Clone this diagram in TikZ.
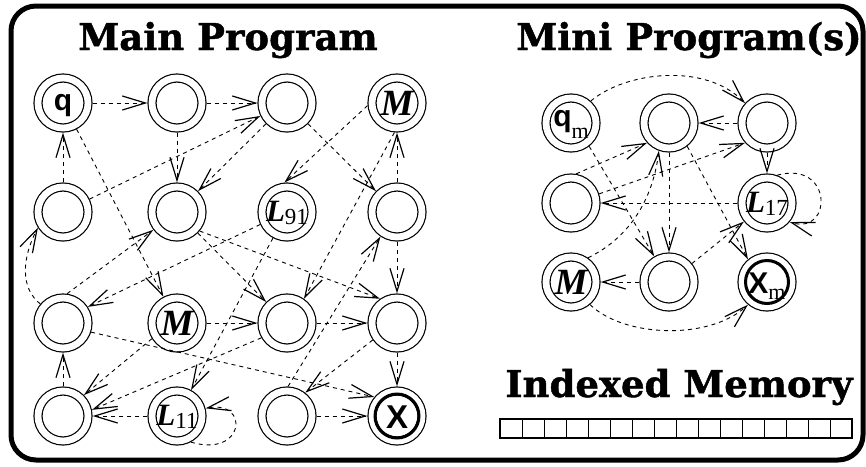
\documentclass[tikz,border=0pt]{standalone}
\usepackage{fontspec}
\setmainfont{Liberation Serif}
\newfontfamily\ttlfont[BoldFeatures={FakeBold=1.2}]{DejaVu Serif}
\newfontfamily\sansb{Liberation Sans}
\usetikzlibrary{arrows.meta}
\newcommand{\lbl}[2]{\raisebox{#1}[0pt][0pt]{#2}}
\newcommand{\Qq}{\lbl{-7.5pt}{\sansb\bfseries\fontsize{30}{30}\selectfont q}}
\newcommand{\Qm}{\lbl{-3pt}{\sansb\bfseries\fontsize{30}{30}\selectfont q}\lbl{-15pt}{\fontsize{22}{22}\selectfont m}}
\newcommand{\Mm}{\lbl{-12pt}{\bfseries\itshape\fontsize{37}{37}\selectfont M}}
\newcommand{\Ll}[1]{\lbl{-9pt}{\bfseries\itshape\fontsize{31}{31}\selectfont L}\lbl{-12pt}{\fontsize{23}{23}\selectfont #1}}
\newcommand{\Xx}{\lbl{-12pt}{\sansb\bfseries\fontsize{33}{33}\selectfont X}}
\newcommand{\Xm}{\lbl{-11pt}{\sansb\bfseries\fontsize{30}{30}\selectfont X}\lbl{-17pt}{\fontsize{22}{22}\selectfont m}}
\tikzset{
  st/.style={circle, draw, line width=1.2pt, double, double distance=6.8pt,
    minimum size=50pt, inner sep=0pt, outer sep=4.6pt},
  ar/.style={line width=0.9pt, dash pattern=on 4pt off 4pt,
    -{Straight Barb[length=23pt,width=14pt,line width=1.2pt]}},
  ttl/.style={font=\ttlfont\bfseries\fontsize{37}{37}\selectfont, inner sep=0pt, anchor=base},
  thickin/.style={line width=3pt}
}
\begin{document}
\begin{tikzpicture}[x=1pt,y=-1pt]
\useasboundingbox (0,0) rectangle (866,466);
\draw[line width=5pt, rounded corners=25pt] (11,6) rectangle (863,460);
\node[ttl] (t1) at (228,50) {Main Program};
\node[ttl] (t2) at (689,50) {Mini Program(s)};
\node[ttl] (t3) at (679,397) {Indexed Memory};
% main program nodes
\node[st] (a11) at (63,103) {\Qq};
\node[st] (a12) at (177,103) {};
\node[st] (a13) at (287,103) {};
\node[st] (a14) at (397,103) {\Mm};
\node[st] (a21) at (63,212) {};
\node[st] (a22) at (177,212) {};
\node[st] (a23) at (287,212) {\Ll{91}};
\node[st] (a24) at (397,212) {};
\node[st] (a31) at (63,323) {};
\node[st] (a32) at (177,323) {\Mm};
\node[st] (a33) at (287,323) {};
\node[st] (a34) at (397,323) {};
\node[st] (a41) at (63,416) {};
\node[st] (a42) at (177,416) {\Ll{11}};
\node[st] (a43) at (287,416) {};
\node[st] (a44) at (397,416) {\Xx};
\draw[thickin] (a44.center) circle (22pt);
% mini program nodes
\node[st] (b11) at (571,123) {\Qm};
\node[st] (b12) at (669,123) {};
\node[st] (b13) at (767,123) {};
\node[st] (b21) at (571,203) {};
\node[st] (b23) at (767,203) {\Ll{17}};
\node[st] (b31) at (571,282) {\Mm};
\node[st] (b32) at (669,282) {};
\node[st] (b33) at (767,282) {\Xm};
\draw[thickin] (b33.center) circle (21.5pt);
% main edges
\draw[ar] (a11) -- (a12);
\draw[ar] (a12) -- (a13);
\draw[ar] (a21) -- (a11);
\draw[ar] (a12) -- (a22);
\draw[ar] (a21) -- (a13);
\draw[ar] (a13) -- (a22);
\draw[ar] (a11) -- (a32);
\draw[ar] (a14.185) -- (a23.95);
\draw[ar] (a13) -- (a24);
\draw[ar] (a24) -- (a14);
\draw[ar] (a14.-95) -- (a33.55);
\draw[ar] (a31.82) -- (a22.217);
\draw[ar] (a22) -- (a33);
\draw[ar] (a22.-40) -- (a34.125);
\draw[ar] (a23.205) -- (a31.33);
\draw[ar] (a23) -- (a42);
\draw[ar] (a32) -- (a33);
\draw[ar] (a33) -- (a34);
\draw[ar] (a24) -- (a34);
\draw[ar] (a34) -- (a44);
\draw[ar] (a43) -- (a44);
\draw[ar] (a43.88) -- (a24.236);
\draw[ar] (a34.215) -- (a43.52);
\draw[ar] (a31.-18) -- (a44.140);
\draw[ar] (a32.212) -- (a41.45);
\draw[ar] (a33.210) -- (a41.12);
\draw[ar] (a42) -- (a41);
\draw[ar] (a41) -- (a31);
\draw[ar] (a31.140) .. controls (20,288) and (22,258) .. (a21.212);
\draw[ar] (a42.-62) .. controls (245,458) and (250,400) .. (a42.15);
% mini edges
\draw[ar] (b11.48) .. controls (625,72) and (705,62) .. (b13.138);
\draw[ar] (b13) -- (b12);
\draw[ar] (b13) -- (b23);
\draw[ar] (b21.80) -- (b12.222);
\draw[ar] (b23) -- (b21);
\draw[ar] (b21.18) -- (b13.222);
\draw[ar] (b11.-52) -- (b32.120);
\draw[ar] (b12) -- (b32);
\draw[ar] (b12.-52) -- (b33.130);
\draw[ar] (b32) -- (b23);
\draw[ar] (b31.55) .. controls (625,240) and (652,205) .. (b12.250);
\draw[ar] (b32) -- (b31);
\draw[ar] (b31.-50) .. controls (625,338) and (710,340) .. (b33.-130);
\draw[ar] (b23.70) .. controls (833,160) and (833,235) .. (b23.-40);
% memory
\draw[line width=1.8pt] (500,419) rectangle (852,438);
\foreach \i in {1,...,15} \draw[line width=1pt] ({500+22*\i},419) -- ({500+22*\i},438);
\end{tikzpicture}
\end{document}
